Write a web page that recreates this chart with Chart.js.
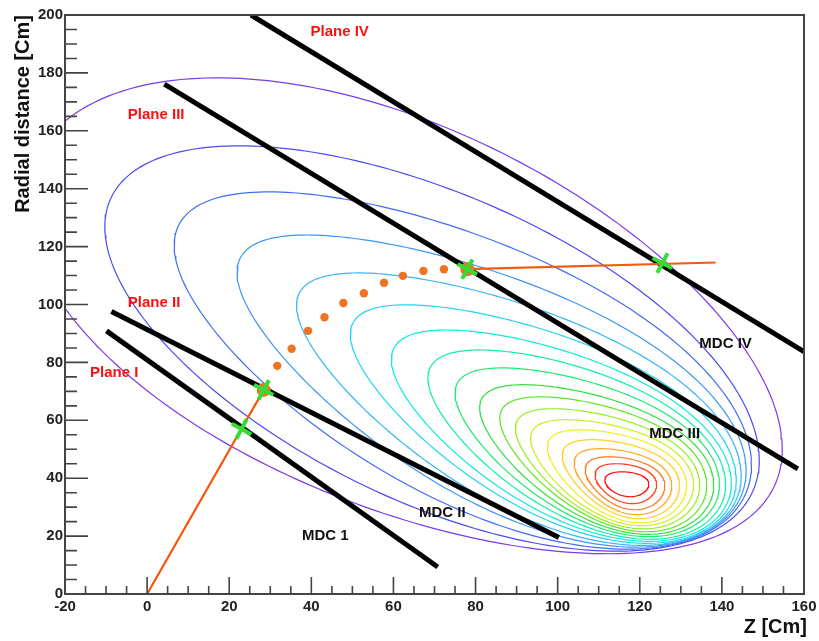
<!DOCTYPE html>
<html>
<head>
<meta charset="utf-8">
<script src="https://cdn.jsdelivr.net/npm/chart.js@4.4.1/dist/chart.umd.min.js"></script>
<style>
  html, body { margin: 0; padding: 0; background: #fff; }
  canvas { display: block; }
</style>
</head>
<body>
<canvas id="chart" width="819" height="641"></canvas>
<script>
// Axis ticks
const zTicks = [-20, 0, 20, 40, 60, 80, 100, 120, 140, 160];
const rTicks = [0, 20, 40, 60, 80, 100, 120, 140, 160, 180, 200];

// Contour levels, innermost (red) to outermost (purple):
// extents in Z and R, and the tilt of each curve at its left (nose) and right end
const contourZMin = [111.5, 109.1, 106.7, 104.0, 101.1, 97.5, 93.4, 89.7, 85.9, 81.0, 75.0, 68.4, 59.5, 49.5, 36.4, 21.9, 6.6, -10.3, -29.7];
const contourZMax = [122.2, 124.1, 126.1, 127.8, 129.7, 131.4, 133.1, 134.6, 136.3, 138.0, 139.4, 140.9, 142.3, 143.5, 144.7, 145.9, 147.2, 149.1, 154.7];
const contourRMin = [33.6, 31.2, 29.1, 27.4, 26.0, 24.6, 23.6, 22.5, 21.5, 20.6, 19.8, 18.9, 18.2, 17.5, 16.8, 16.2, 15.5, 14.8, 13.9];
const contourRMax = [42.2, 45.0, 47.4, 50.2, 53.3, 56.7, 60.2, 64.0, 68.1, 72.3, 78.1, 84.3, 91.2, 99.9, 110.9, 124.0, 138.9, 154.8, 178.3];
const contourTiltLeft = [-0.35, -0.45, -0.52, -0.57, -0.60, -0.63, -0.65, -0.67, -0.68, -0.69, -0.70, -0.70, -0.72, -0.75, -0.76, -0.76, -0.70, -0.60, -0.47];
const contourTiltRight = [0.0, -0.05, -0.10, -0.13, -0.16, -0.19, -0.23, -0.27, -0.31, -0.34, -0.38, -0.42, -0.45, -0.47, -0.49, -0.51, -0.53, -0.55, -0.56];

// MDC planes (start / end of each segment)
const planeNames = ['Plane I', 'Plane II', 'Plane III', 'Plane IV'];
const planeZ = [[-9.9, 70.8], [-8.7, 100.3], [4.2, 158.5], [25.3, 160]];
const planeR = [[90.9, 9.3], [97.6, 19.5], [176.1, 43.2], [200, 83.7]];

// Track: straight pieces, fitted points and hits on the planes
const innerTrackZ = [0, 28.4];
const innerTrackR = [0, 70.5];
const outerTrackZ = [78.0, 138.5];
const outerTrackR = [112.2, 114.5];
const arcZ = [31.7, 35.2, 39.2, 43.2, 47.8, 52.8, 57.7, 62.3, 67.3, 72.3];
const arcR = [78.8, 84.7, 90.9, 95.6, 100.5, 103.9, 107.5, 109.9, 111.6, 112.2];
const bigDotZ = [28.4, 78.0];
const bigDotR = [70.5, 112.2];
const hitZ = [23.0, 28.4, 78.0, 125.5];
const hitR = [57.0, 70.5, 112.2, 114.3];

const contourColors = ['#ff1010', '#ff4020', '#ff7a20', '#ffa820', '#ffd020', '#f0ee20', '#c8f020', '#98ee20',
  '#60e820', '#30e040', '#20e870', '#10f0a8', '#10ebd8', '#20d5f0', '#35b5f8', '#3d95f5', '#3f6ef2', '#4b4bef', '#7a3ce8'];

const labelFont = 'bold 15px "Liberation Sans", Arial, sans-serif';
const textLabels = [
  { text: 'Plane IV', z: 46.9, r: 194.1, color: '#ff1010' },
  { text: 'Plane III', z: 2.2, r: 165.5, color: '#ff1010' },
  { text: 'Plane II', z: 1.7, r: 100.6, color: '#ff1010' },
  { text: 'Plane I', z: -8.0, r: 76.3, color: '#ff1010' },
  { text: 'MDC IV', z: 140.9, r: 86.4, color: '#111' },
  { text: 'MDC III', z: 128.5, r: 55.3, color: '#111' },
  { text: 'MDC II', z: 71.9, r: 28.0, color: '#111' },
  { text: 'MDC 1', z: 43.4, r: 20.1, color: '#111' },
];

function toPoints(zs, rs) {
  return zs.map((z, i) => ({ x: z, y: rs[i] }));
}

// closed curve through the extents of one contour level,
// its tilt blending from the left end to the right end
function contourPoints(k) {
  const zc = (contourZMin[k] + contourZMax[k]) / 2;
  const zh = (contourZMax[k] - contourZMin[k]) / 2;
  const rc = (contourRMin[k] + contourRMax[k]) / 2;
  const rh = (contourRMax[k] - contourRMin[k]) / 2;
  const rl = contourTiltLeft[k], rr = contourTiltRight[k];
  const pts = [];
  for (let i = 0; i <= 240; i++) {
    const t = (i / 240) * 2 * Math.PI;
    const c = Math.cos(t);
    const rho = (rl + rr) / 2 + ((rr - rl) / 2) * c;
    const s = Math.sqrt(1 - rho * rho);
    pts.push({ x: zc + zh * c, y: rc + rh * (rho * c + s * Math.sin(t)) });
  }
  return pts;
}

const datasets = [];

contourZMin.forEach((_, k) => {
  datasets.push({
    data: contourPoints(k),
    showLine: true,
    borderColor: contourColors[k],
    borderWidth: 1.2,
    pointRadius: 0,
    clip: 0,
    order: 6,
  });
});

planeNames.forEach((name, i) => {
  datasets.push({
    label: name,
    data: toPoints(planeZ[i], planeR[i]),
    showLine: true,
    borderColor: '#000',
    borderWidth: 5,
    pointRadius: 0,
    order: 5,
  });
});

[[innerTrackZ, innerTrackR], [outerTrackZ, outerTrackR]].forEach(([zs, rs]) => {
  datasets.push({
    data: toPoints(zs, rs),
    showLine: true,
    borderColor: '#f25a0c',
    borderWidth: 2.2,
    pointRadius: 0,
    order: 4,
  });
});

datasets.push({
  data: toPoints(arcZ, arcR),
  pointRadius: 4.2,
  pointBackgroundColor: '#ee7420',
  pointBorderColor: '#ee7420',
  pointBorderWidth: 0,
  order: 3,
});

datasets.push({
  data: toPoints(bigDotZ, bigDotR),
  pointRadius: 7,
  pointBackgroundColor: '#ee7420',
  pointBorderColor: '#ee7420',
  pointBorderWidth: 0,
  order: 2,
});

datasets.push({
  data: toPoints(hitZ, hitR),
  pointStyle: 'cross',
  pointRotation: 28,
  pointRadius: 11,
  pointBorderColor: '#33dd33',
  pointBorderWidth: 4,
  order: 1,
});

// ROOT-like frame: ticks inside the box, axis titles and text labels
const rootFrame = {
  id: 'rootFrame',
  afterDatasetsDraw(chart) {
    const { ctx, chartArea: a, scales: { x, y } } = chart;
    ctx.save();

    ctx.strokeStyle = '#444';
    ctx.lineWidth = 1.6;
    ctx.beginPath();
    for (let v = -20; v <= 160; v += 5) {
      const px = x.getPixelForValue(v);
      const len = v % 20 === 0 ? 17 : 8;
      ctx.moveTo(px, a.bottom);
      ctx.lineTo(px, a.bottom - len);
    }
    for (let v = 0; v <= 200; v += 5) {
      const py = y.getPixelForValue(v);
      const len = v % 20 === 0 ? 23 : 12;
      ctx.moveTo(a.left, py);
      ctx.lineTo(a.left + len, py);
    }
    ctx.stroke();

    ctx.lineWidth = 2;
    ctx.strokeRect(a.left, a.top, a.right - a.left, a.bottom - a.top);

    ctx.font = labelFont;
    ctx.textAlign = 'center';
    ctx.textBaseline = 'middle';
    textLabels.forEach(l => {
      ctx.fillStyle = l.color;
      ctx.fillText(l.text, x.getPixelForValue(l.z), y.getPixelForValue(l.r));
    });

    ctx.fillStyle = '#111';
    ctx.font = 'bold 20px "Liberation Sans", Arial, sans-serif';
    ctx.textAlign = 'right';
    ctx.textBaseline = 'alphabetic';
    ctx.fillText('Z [Cm]', 807, 633);

    ctx.translate(29, a.top);
    ctx.rotate(-Math.PI / 2);
    ctx.textAlign = 'right';
    ctx.fillText('Radial distance [Cm]', 0, 0);

    ctx.restore();
  }
};

Chart.defaults.font.family = '"Liberation Sans", Arial, sans-serif';

new Chart(document.getElementById('chart'), {
  type: 'scatter',
  data: { datasets },
  options: {
    responsive: false,
    animation: false,
    devicePixelRatio: 1,
    layout: { padding: { left: 0, top: 15, right: 11, bottom: 0 } },
    plugins: {
      legend: { display: false },
      tooltip: { enabled: false },
    },
    scales: {
      x: {
        type: 'linear',
        min: -20,
        max: 160,
        afterBuildTicks: s => { s.ticks = zTicks.map(v => ({ value: v })); },
        afterFit: s => { s.height = 47; s.paddingLeft = 0; s.paddingRight = 0; },
        grid: { display: false, drawTicks: false },
        border: { display: false },
        ticks: {
          autoSkip: false,
          maxRotation: 0,
          padding: 4,
          color: '#222',
          font: { size: 15, weight: 'bold' },
        },
      },
      y: {
        type: 'linear',
        min: 0,
        max: 200,
        afterBuildTicks: s => { s.ticks = rTicks.map(v => ({ value: v })); },
        afterFit: s => { s.width = 65; s.paddingTop = 0; s.paddingBottom = 0; },
        grid: { display: false, drawTicks: false },
        border: { display: false },
        ticks: {
          autoSkip: false,
          padding: 2,
          color: '#222',
          font: { size: 15, weight: 'bold' },
        },
      },
    },
  },
  plugins: [rootFrame],
});
</script>
</body>
</html>
